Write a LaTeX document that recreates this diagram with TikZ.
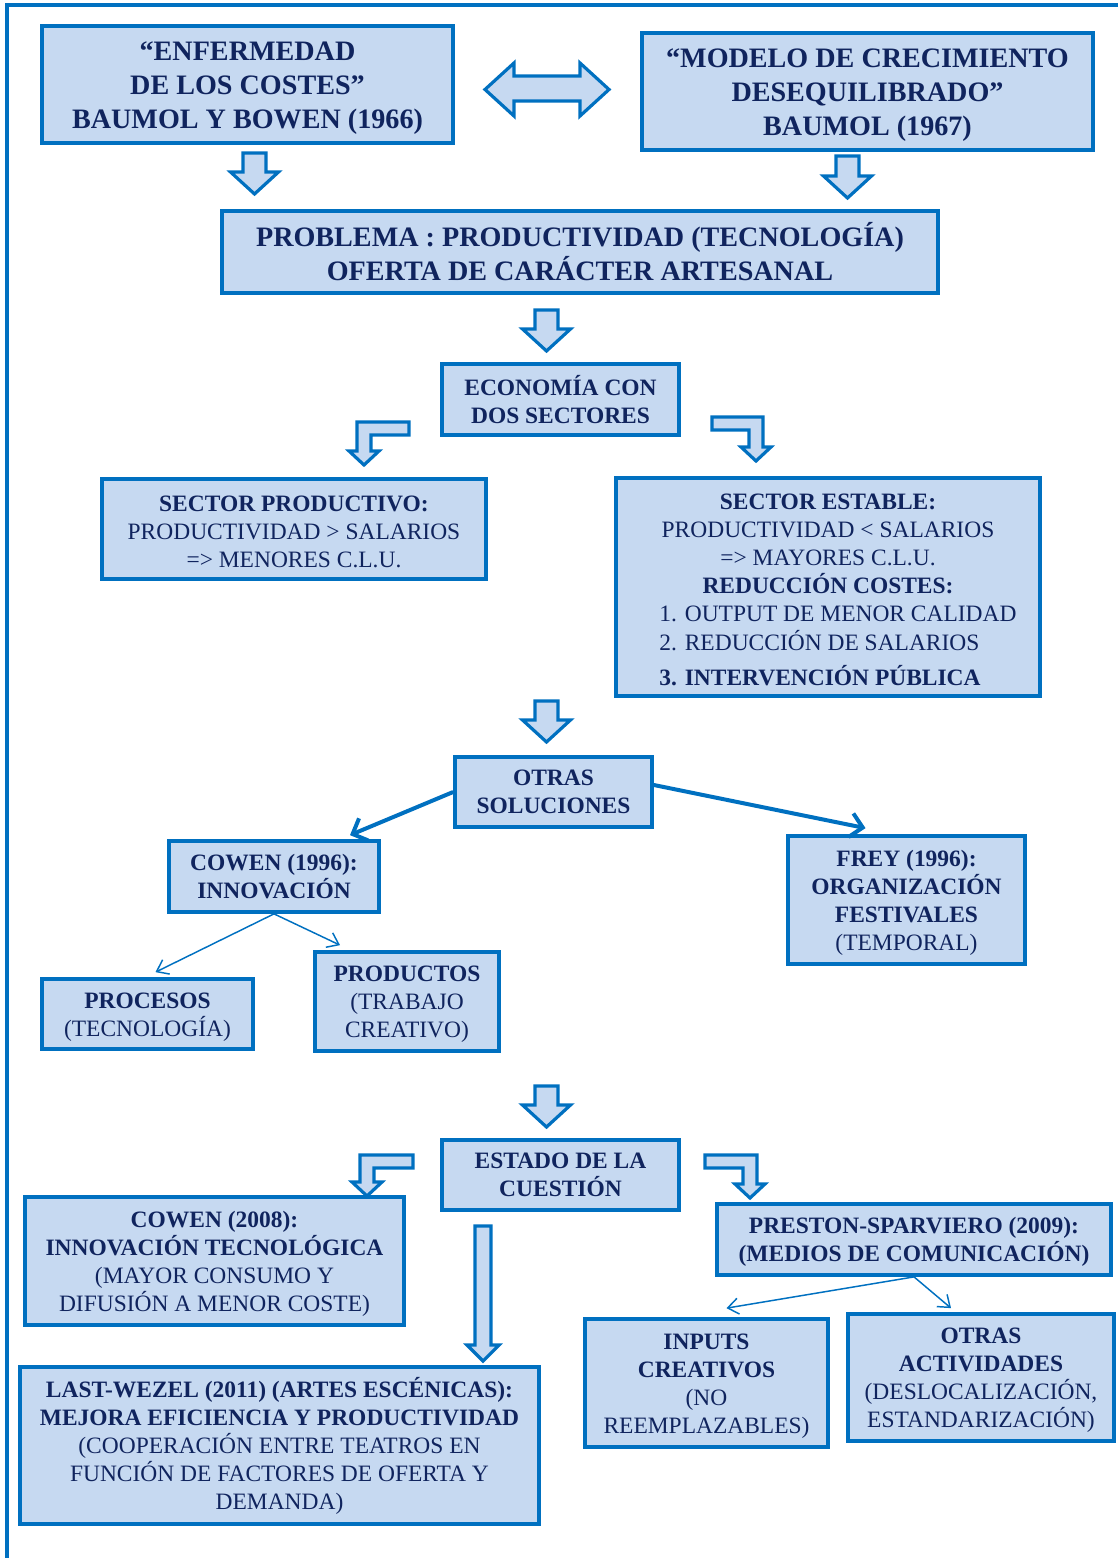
\documentclass[tikz,border=0pt]{standalone}
\usepackage{fontspec}
\setmainfont{Liberation Serif}
\usetikzlibrary{arrows.meta, calc}
\definecolor{boxblue}{RGB}{0,112,192}
\definecolor{boxfill}{RGB}{198,217,241}
\definecolor{navy}{RGB}{16,36,94}
\newcommand{\bigf}{\fontsize{21.1}{25.5}\selectfont\bfseries}
\newcommand{\smallf}{\fontsize{17.6}{21}\selectfont}
\newcommand{\boxtop}[1][0.9em]{\rule{0pt}{#1}}
\newcommand{\blockdown}[3]{\draw[blockarr] ({#1-11.5},#2) -- ({#1+11.5},#2) -- ({#1+11.5},{#3-22}) -- ({#1+24},{#3-22}) -- (#1,#3) -- ({#1-24},{#3-22}) -- ({#1-11.5},{#3-22}) -- cycle;}
\newcommand{\bentarrow}[5]{\draw[blockarr] (#3,#4) -- (#2,#4) -- (#2,{#5-14}) -- ({#2-(#1)*7+(#1)*15},{#5-14}) -- ({#2-(#1)*7},#5) -- ({#2-(#1)*7-(#1)*15},{#5-14}) -- ({#2-(#1)*14},{#5-14}) -- ({#2-(#1)*14},{#4+13}) -- (#3,{#4+13}) -- cycle;}

\begin{document}
\begin{tikzpicture}[x=0.75pt, y=-0.75pt,
    box/.style = {draw=boxblue, fill=boxfill, line width=2.8pt, text=navy, align=center, inner sep=0pt},
    sz/.style 2 args = {minimum width=#1*0.75pt, minimum height=#2*0.75pt},
    blockarr/.style = {draw=boxblue, fill=boxfill, line width=2.4pt, line join=miter},
    thickarr/.style = {draw=boxblue, line width=3pt, -{Straight Barb[length=9pt, width=18pt]}},
    thinarr/.style = {draw=boxblue, line width=1.1pt, -{Straight Barb[length=8pt, width=12pt]}}]
    \useasboundingbox (0,0) rectangle (1118,1558);
    \draw[boxblue, line width=3pt] (1118,5) -| (7,1558);

    \node[box, sz={411}{117}, font=\bigf] at (247.5,84.5) (enf) {\boxtop“ENFERMEDAD\\ DE LOS COSTES”\\ BAUMOL Y BOWEN (1966)};
    \node[box, sz={451}{117}, font=\bigf] at (867.5,91.5) (mod) {\boxtop“MODELO DE CRECIMIENTO\\ DESEQUILIBRADO”\\ BAUMOL (1967)};
    \node[box, sz={716}{82}, font=\bigf] at (580,252) (prob) {PROBLEMA : PRODUCTIVIDAD (TECNOLOGÍA)\\ OFERTA DE CARÁCTER ARTESANAL};
    \node[box, sz={237}{71}, font=\smallf\bfseries] at (560.5,399.5) (eco) {ECONOMÍA CON\\ DOS SECTORES};
    \node[box, sz={384}{100}, font=\smallf] at (294,529) (prod) {\boxtop\textbf{SECTOR PRODUCTIVO:}\\ PRODUCTIVIDAD > SALARIOS\\ => MENORES C.L.U.};
    \node[box, sz={424}{218}, font=\smallf] at (828,587) (estab) {\boxtop[1.25em]\textbf{SECTOR ESTABLE:}\\ PRODUCTIVIDAD < SALARIOS\\ => MAYORES C.L.U.\\ \textbf{REDUCCIÓN COSTES:}\\
        \hspace*{15pt}\begin{tabular}[t]{@{}l@{}}1. OUTPUT DE MENOR CALIDAD\\ 2. REDUCCIÓN DE SALARIOS\\[5pt] \textbf{3. INTERVENCIÓN PÚBLICA}\end{tabular}};
    \node[box, sz={197}{70}, font=\smallf\bfseries] at (553.5,792) (otras) {OTRAS\\ SOLUCIONES};
    \node[box, sz={210}{71}, font=\smallf\bfseries] at (274,876.5) (cowen96) {COWEN (1996):\\ INNOVACIÓN};
    \node[box, sz={237}{128}, font=\smallf] at (906.5,900) (frey) {\boxtop\textbf{FREY (1996):}\\ \textbf{ORGANIZACIÓN}\\ \textbf{FESTIVALES}\\ (TEMPORAL)};
    \node[box, sz={211}{70}, font=\smallf] at (147.5,1014) (proc) {\boxtop\textbf{PROCESOS}\\ (TECNOLOGÍA)};
    \node[box, sz={184}{99}, font=\smallf] at (407,1001.5) (produc) {\boxtop\textbf{PRODUCTOS}\\ (TRABAJO\\ CREATIVO)};
    \node[box, sz={237}{70}, font=\smallf\bfseries] at (560.5,1175) (estado) {ESTADO DE LA\\ CUESTIÓN};
    \node[box, sz={379}{128}, font=\smallf] at (214.5,1261) (cowen08) {\boxtop\textbf{COWEN (2008):}\\ \textbf{INNOVACIÓN TECNOLÓGICA}\\ (MAYOR CONSUMO Y\\ DIFUSIÓN A MENOR COSTE)};
    \node[box, sz={394}{71}, font=\smallf\bfseries] at (914,1239.5) (preston) {\boxtop PRESTON-SPARVIERO (2009):\\ (MEDIOS DE COMUNICACIÓN)};
    \node[box, sz={243}{128}, font=\smallf] at (706.5,1383) (inputs) {\boxtop\textbf{INPUTS}\\ \textbf{CREATIVOS}\\ (NO\\ REEMPLAZABLES)};
    \node[box, sz={266}{127}, font=\smallf] at (981,1377.5) (otrasact) {\boxtop\textbf{OTRAS}\\ \textbf{ACTIVIDADES}\\ (DESLOCALIZACIÓN,\\ ESTANDARIZACIÓN)};
    \node[box, sz={519}{157}, font=\smallf] at (279.5,1445.5) (last) {\textbf{LAST-WEZEL (2011) (ARTES ESCÉNICAS):}\\ \textbf{MEJORA EFICIENCIA Y PRODUCTIVIDAD}\\ (COOPERACIÓN ENTRE TEATROS EN\\ FUNCIÓN DE FACTORES DE OFERTA Y\\ DEMANDA)};

    \draw[blockarr] (485,89.5) -- (514,63) -- (514,76) -- (580,76) -- (580,63) -- (609,89.5) -- (580,116) -- (580,101) -- (514,101) -- (514,116) -- cycle;
    \blockdown{254.5}{153}{194}
    \blockdown{847.5}{156}{198}
    \blockdown{546.5}{310}{351}
    \blockdown{546.5}{701}{742}
    \blockdown{546.5}{1086}{1127}
    \bentarrow{-1}{357}{409}{422}{465}
    \bentarrow{1}{763}{712}{417}{461}
    \bentarrow{-1}{360}{413}{1155}{1196}
    \bentarrow{1}{757}{705}{1155}{1198}
    \draw[blockarr] (475,1226) -- (491,1226) -- (491,1345) -- (499,1345) -- (483,1361) -- (467,1345) -- (475,1345) -- cycle;

    \draw[thickarr] (otras.west) -- ($(cowen96.north)+(76,-4)$);
    \draw[thickarr] ($(otras.east)+(0,-7)$) -- ($(frey.north)+(-41,-6)$);
    \draw[thinarr] (cowen96.south) -- ($(proc.north)+(8,-5)$);
    \draw[thinarr] (cowen96.south) -- ($(produc.north)+(-67,-5)$);
    \draw[thinarr] (preston.south) -- ($(inputs.north)+(20,-9)$);
    \draw[thinarr] (preston.south) -- ($(otrasact.north)+(-30,-4)$);
\end{tikzpicture}
\end{document}
